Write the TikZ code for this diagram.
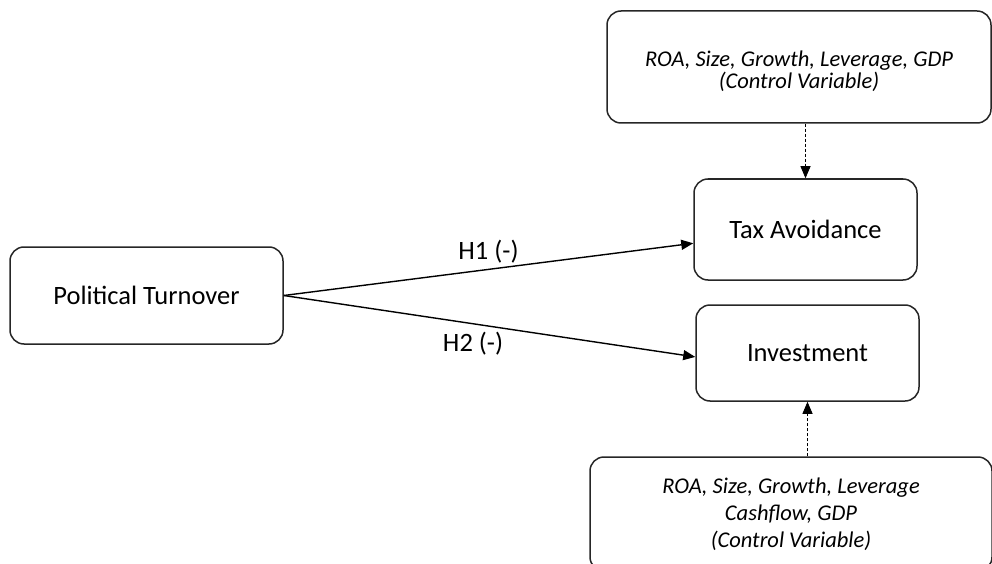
\documentclass[tikz,border=0pt]{standalone}
\usepackage{fontspec}
\setmainfont{Carlito}
\usetikzlibrary{calc}
\usetikzlibrary{arrows.meta}

\begin{document}
\begin{tikzpicture}[x=1pt, y=-1pt,
  box/.style={draw=black!85, line width=1.5pt, rounded corners=14pt, align=center, inner sep=0pt},
  ctrl/.style={box, font=\fontsize{22.5}{22}\itshape\selectfont},
  main/.style={box, font=\fontsize{26.5}{30}\selectfont},
  hyp/.style={line width=1.4pt, -{Triangle[length=12pt,width=10pt]}},
  ctrlarrow/.style={densely dashed, line width=.8pt, -{Triangle[length=12pt,width=10pt]}},
  hlabel/.style={font=\fontsize{26.5}{30}\selectfont, inner sep=2pt}]
\useasboundingbox (0,0) rectangle (992,564);

\node[main, minimum width=273pt, minimum height=97pt] (turn) at (146.5,295.5) {Political Turnover};
\node[main, minimum width=223pt, minimum height=101pt] (tax) at (805.5,229.5) {Tax Avoidance};
\node[main, minimum width=223pt, minimum height=96pt] (inv) at (807.5,353) {Investment};
\node[ctrl, minimum width=384pt, minimum height=112pt] (ctrltop) at (799,67) {\rule{0pt}{24pt}ROA, Size, Growth, Leverage, GDP\\(Control Variable)};
\node[ctrl, minimum width=402pt, minimum height=114pt, font=\fontsize{22.5}{27}\itshape\selectfont] (ctrlbot) at (791,514) {ROA, Size, Growth, Leverage\\Cashflow, GDP\\(Control Variable)};

\draw[hyp] (turn.east) -- (tax.187) node[hlabel, above=4pt, pos=.5] (h1) {H1 (-)};
\draw[hyp] (turn.east) -- (inv.182) node[hlabel, below=6pt, pos=.46] (h2) {H2 (-)};

\draw[ctrlarrow] (tax.north |- ctrltop.south) -- (tax.north);
\draw[ctrlarrow] (inv.south |- ctrlbot.north) -- (inv.south);

\end{tikzpicture}
\end{document}
